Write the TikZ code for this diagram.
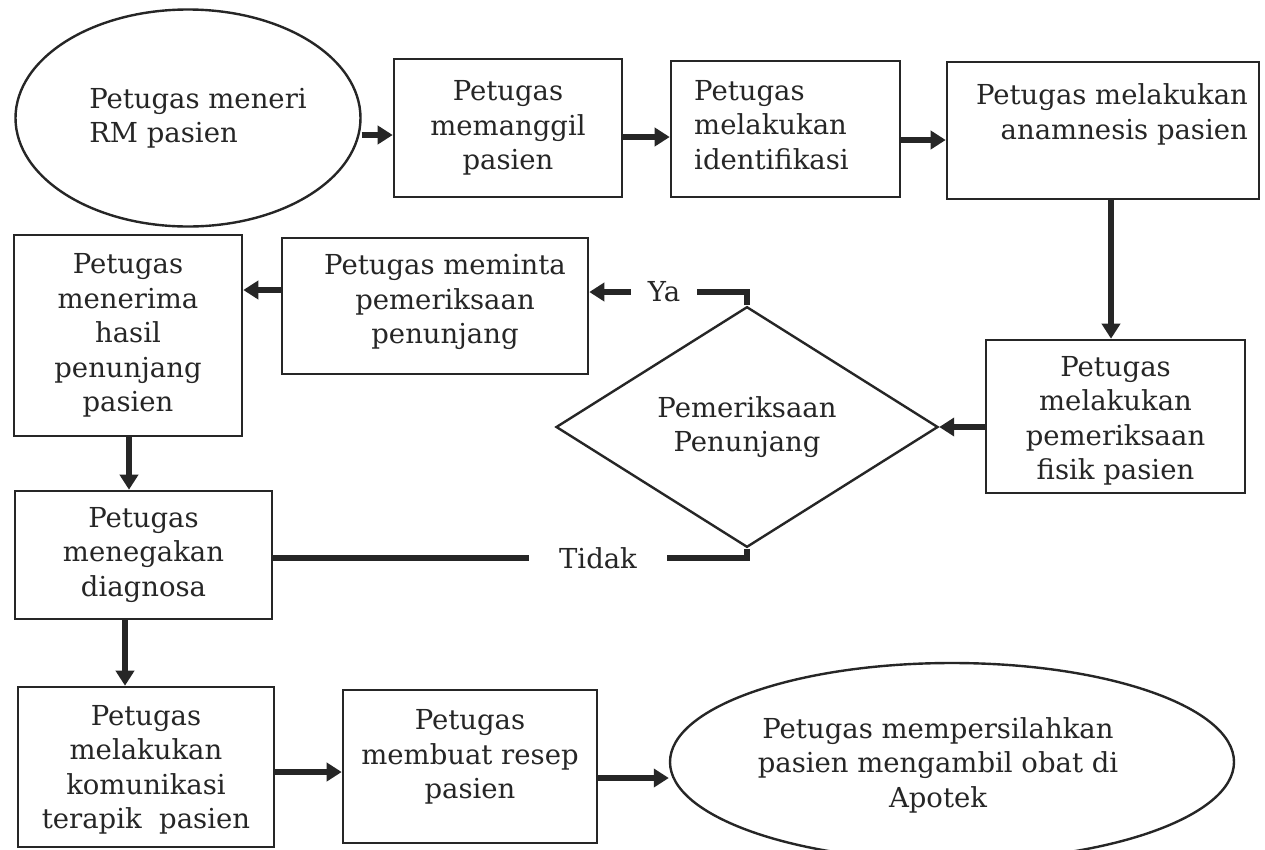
\documentclass[tikz,border=0pt]{standalone}
\usepackage{fontspec}
\setmainfont{DejaVu Serif}
\usetikzlibrary{shapes.geometric,arrows.meta}
\definecolor{ink}{HTML}{262626}
\newcommand{\flowfont}{\fontsize{27.5}{34.5}\selectfont}
\tikzset{
  lbl/.style={text=ink, font=\flowfont, inner sep=0pt},
  box/.style={rectangle, draw=ink, line width=2.6pt, align=center, text=ink, font=\flowfont, inner sep=0pt},
  oval/.style={ellipse, draw=ink, line width=2.4pt, inner sep=0pt},
  decision/.style={diamond, draw=ink, line width=2.4pt, align=center, text=ink, font=\flowfont, inner sep=0pt},
  conn/.style={draw=ink, line width=6pt},
  arr/.style={conn, -{Triangle[length=15pt,width=18pt]}}
}
\begin{document}
\begin{tikzpicture}[x=1pt,y=-1pt]
  \useasboundingbox (0,0) rectangle (1265,849);
  \fill[white] (0,0) rectangle (1265,849);

  % top row
  \node[oval, minimum width=345pt, minimum height=217pt,
        label={[lbl,align=left,xshift=10pt]center:Petugas meneri\\RM pasien}] (A) at (188,118) {};
  \node[box, minimum width=228pt, minimum height=138pt] (B) at (508,128) {Petugas\\memanggil\\pasien};
  \node[box, minimum width=229pt, minimum height=136pt,
        label={[lbl,align=left,xshift=-14pt,yshift=4pt]center:Petugas\\melakukan\\identifikasi}] (C) at (785.5,129) {};
  \node[box, minimum width=312pt, minimum height=137pt,
        label={[lbl,align=right,xshift=9pt,yshift=16pt]center:Petugas melakukan\\anamnesis pasien}] (D) at (1103,130.5) {};

  % middle rows
  \node[box, minimum width=259pt, minimum height=153pt,
        label={[lbl,align=center,yshift=-4.5pt]center:Petugas\\melakukan\\pemeriksaan\\fisik pasien}] (E) at (1115.5,416.5) {};
  \node[decision, minimum width=382pt, minimum height=210pt] (F) at (747,427) {Pemeriksaan\\Penunjang};
  \node[box, minimum width=306pt, minimum height=136pt,
        label={[lbl,align=center,xshift=10pt,yshift=4pt]center:Petugas meminta\\pemeriksaan\\penunjang}] (G) at (435,306) {};
  \node[box, minimum width=228pt, minimum height=201pt] (H) at (128,335.5) {Petugas\\menerima\\hasil\\penunjang\\pasien};
  \node[box, minimum width=257pt, minimum height=128pt] (I) at (143.5,555) {Petugas\\menegakan\\diagnosa};

  % bottom row
  \node[box, minimum width=256pt, minimum height=160pt,
        label={[lbl,align=center,yshift=-3pt]center:Petugas\\melakukan\\komunikasi\\terapik\ \ pasien}] (J) at (146,767) {};
  \node[box, minimum width=254pt, minimum height=153pt,
        label={[lbl,align=center,yshift=9.5pt]center:Petugas\\membuat resep\\pasien}] (K) at (470,766.5) {};
  \node[oval, minimum width=564pt, minimum height=198pt,
        label={[lbl,align=center,xshift=-14pt,yshift=-3pt]center:Petugas mempersilahkan\\pasien mengambil obat di\\Apotek}] (L) at (952,762) {};

  % branch labels
  \node[lbl, inner xsep=17pt] (ya) at (664,292) {Ya};
  \node[lbl, inner xsep=30pt] (tidak) at (598,558) {Tidak};

  % connectors
  \draw[arr] ([yshift=-17pt]A.east) -- ([yshift=-17pt]A.east -| B.west);
  \draw[arr] ([yshift=-9pt]B.east) -- ([yshift=-9pt]B.east -| C.west);
  \draw[arr] ([yshift=-11pt]C.east) -- ([yshift=-11pt]C.east -| D.west);
  \draw[arr] ([xshift=8pt]D.south) -- ([xshift=8pt]D.south |- E.north);
  \draw[arr] ([yshift=-10.5pt]E.west) -- (F.east);
  \draw[conn] (F.north) |- (ya.east);
  \draw[arr] (ya.west) -- (ya.west -| G.east);
  \draw[arr] ([yshift=16pt]G.west) -- ([yshift=16pt]G.west -| H.east);
  \draw[arr] ([xshift=1pt]H.south) -- ([xshift=1pt]H.south |- I.north);
  \draw[conn] (F.south) |- (tidak.east);
  \draw[conn] (tidak.west) -- (tidak.west -| I.east);
  \draw[arr] ([xshift=-18.5pt]I.south) -- ([xshift=-18.5pt]I.south |- J.north);
  \draw[arr] ([yshift=-5pt]J.east) -- ([yshift=-5pt]J.east -| K.west);
  \draw[arr] ([yshift=-11.5pt]K.east) -- ([yshift=-16pt]L.west);
\end{tikzpicture}
\end{document}
